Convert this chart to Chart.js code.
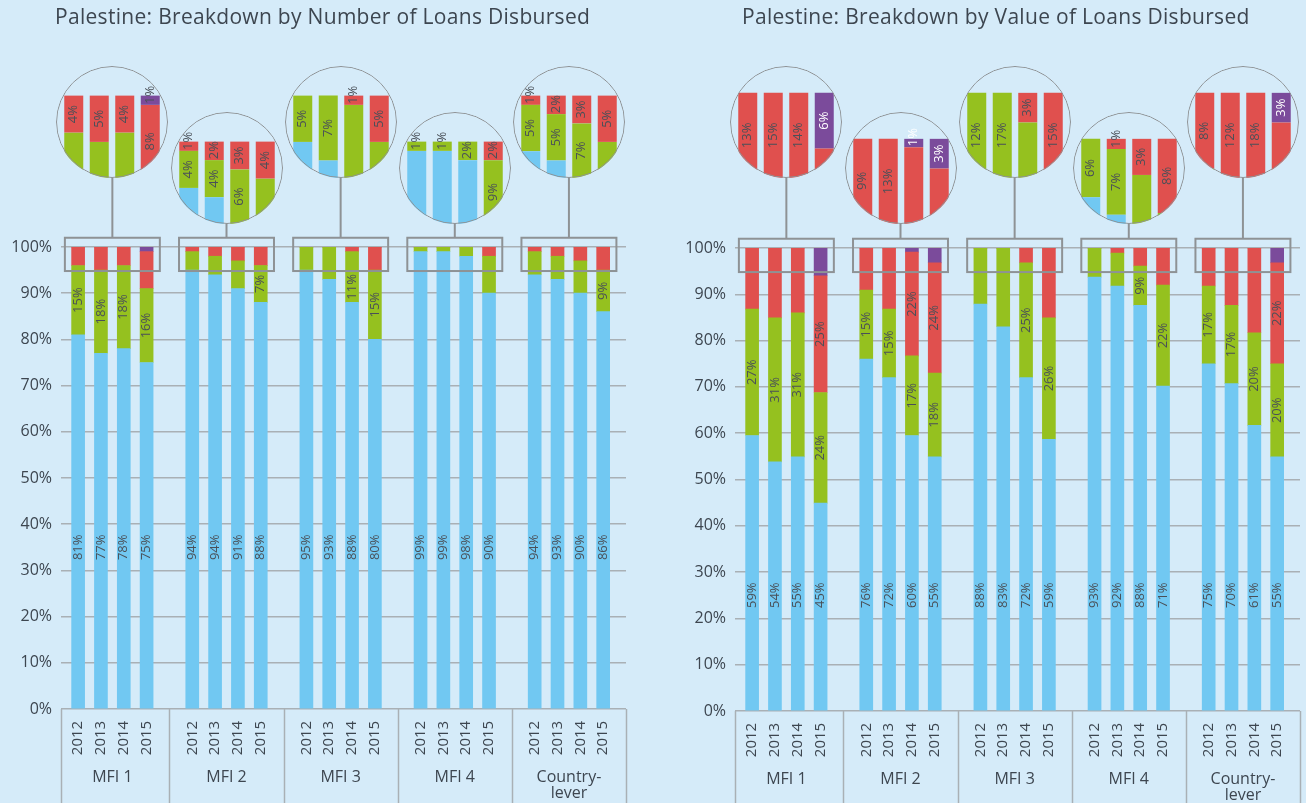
<!DOCTYPE html>
<html>
  <head>
    <title>Palestine: Breakdown of Loans Disbursed</title>
    <meta charset="UTF-8" />
    <script src="https://cdn.jsdelivr.net/npm/chart.js@4"></script>
    <style>
      body { margin: 0; background: #d5ebf9; font-family: "Open Sans", sans-serif; }
      .half { position: absolute; top: 0; width: 653px; height: 803px; }
      .half canvas.main { position: absolute; left: 0; top: 0; }
      .title { position: absolute; top: 3px; font-size: 21px; letter-spacing: 0.3px; line-height: 26px; color: #3d4650; white-space: nowrap; }
      .lens { position: absolute; width: 112px; height: 112px; border-radius: 50%; overflow: hidden; }
      .lens canvas { position: absolute; left: 0; top: 0; }
      .lens::after { content: ""; position: absolute; left: 0; top: 0; right: 0; bottom: 0; border-radius: 50%; border: 1.5px solid #8e9295; }
    </style>
  </head>
  <body>
    <div class="half" id="left" style="left:0">
      <canvas class="main" width="653" height="803"></canvas>
      <div class="title" style="left:55px">Palestine: Breakdown by Number of Loans Disbursed</div>
    </div>
    <div class="half" id="right" style="left:653px">
      <canvas class="main" width="653" height="803"></canvas>
      <div class="title" style="left:89px">Palestine: Breakdown by Value of Loans Disbursed</div>
    </div>
    <script>
      var years = ["2012", "2013", "2014", "2015"];
      var groups = [["MFI 1"], ["MFI 2"], ["MFI 3"], ["MFI 4"], ["Country-", "lever"]];
      var seriesColors = ["#71c8f2", "#95c11f", "#e0504e", "#7b4b9b"];

      // number of loans, % (MFI 1..4, country; 2012-2015 each)
      var numBlue = [81, 77, 78, 75, 95, 94, 91, 88, 95, 93, 88, 80, 99, 99, 98, 90, 94, 93, 90, 86];
      var numGreen = [15, 18, 18, 16, 4, 4, 6, 8, 5, 7, 11, 15, 1, 1, 2, 8, 5, 5, 7, 9];
      var numRed = [4, 5, 4, 8, 1, 2, 3, 4, 0, 0, 1, 5, 0, 0, 0, 2, 1, 2, 3, 5];
      var numPurple = [0, 0, 0, 1, 0, 0, 0, 0, 0, 0, 0, 0, 0, 0, 0, 0, 0, 0, 0, 0];

      // printed labels (main chart / magnifier)
      var numBlueLbl = [81, 77, 78, 75, 94, 94, 91, 88, 95, 93, 88, 80, 99, 99, 98, 90, 94, 93, 90, 86];
      var numGreenLbl = [15, 18, 18, 16, null, null, null, 7, null, null, 11, 15, null, null, null, null, null, null, null, 9];
      var numGreenZoom = [null, null, null, null, 4, 4, 6, null, 5, 7, null, null, 1, 1, 2, 9, 5, 5, 7, null];
      var numRedZoom = [4, 5, 4, 8, 1, 2, 3, 4, null, null, 1, 5, null, null, null, 2, 1, 2, 3, 5];
      var numPurpleZoom = [null, null, null, 1, null, null, null, null, null, null, null, null, null, null, null, null, null, null, null, null];

      // value of loans, %
      var valBlue = [59.5, 53.8, 54.9, 44.9, 76, 72, 59.5, 54.9, 87.9, 83, 72, 58.7, 93.7, 91.8, 87.6, 70.2, 75, 70.7, 61.7, 54.9];
      var valGreen = [27.3, 31.1, 31.1, 23.9, 14.9, 14.8, 17.2, 18.1, 12.1, 17, 24.8, 26.2, 6.3, 7.1, 8.5, 21.8, 16.8, 16.9, 20, 20.1];
      var valRed = [13.2, 15.1, 14, 25.2, 9.1, 13.2, 22.4, 23.8, 0, 0, 3.2, 15.1, 0, 1.1, 3.9, 8, 8.2, 12.4, 18.3, 21.8];
      var valPurple = [0, 0, 0, 6, 0, 0, 0.9, 3.2, 0, 0, 0, 0, 0, 0, 0, 0, 0, 0, 0, 3.2];

      var valBlueLbl = [59, 54, 55, 45, 76, 72, 60, 55, 88, 83, 72, 59, 93, 92, 88, 71, 75, 70, 61, 55];
      var valGreenLbl = [27, 31, 31, 24, 15, 15, 17, 18, null, null, 25, 26, null, null, 9, 22, 17, 17, 20, 20];
      var valRedLbl = [null, null, null, 25, null, null, 22, 24, null, null, null, null, null, null, null, null, null, null, null, 22];
      var valGreenZoom = [null, null, null, null, null, null, null, null, 12, 17, null, null, 6, 7, null, null, null, null, null, null];
      var valRedZoom = [13, 15, 14, null, 9, 13, null, null, null, null, 3, 15, null, 1, 3, 8, 8, 12, 18, null];
      var valPurpleZoom = [null, null, null, 6, null, null, 1, 3, null, null, null, null, null, null, null, null, null, null, null, 3];

      var textColor = "#3d4650";
      var lblColor = "#4a5058";
      var lineColor = "#8e9295";
      var gridColor = "#a9b0b5";

      function drawUp(ctx, text, x, y, color) {
        ctx.save();
        ctx.translate(x, y);
        ctx.rotate(-Math.PI / 2);
        ctx.textAlign = "center";
        ctx.textBaseline = "middle";
        ctx.fillStyle = color;
        ctx.fillText(text, 0, 0);
        ctx.restore();
      }

      var decor = {
        id: "decor",
        afterDatasetsDraw: function (chart, args, o) {
          var ctx = chart.ctx, xs = chart.scales.x, ys = chart.scales.y;
          var boxTop = ys.getPixelForValue(102), boxBottom = ys.getPixelForValue(94.8);

          // value labels
          ctx.font = '13px "Open Sans"';
          chart.data.datasets.forEach(function (ds, k) {
            if (!ds.mainLabels) return;
            chart.getDatasetMeta(k).data.forEach(function (bar, i) {
              var v = ds.mainLabels[i];
              if (v == null) return;
              var t = v + "%";
              var half = ctx.measureText(t).width / 2;
              var cy = k === 0 ? ys.getPixelForValue(o.blueAt) : (bar.y + bar.base) / 2;
              cy = Math.max(cy, boxBottom + half + 3);
              drawUp(ctx, t, bar.x, cy, lblColor);
            });
          });

          // zoom boxes + connectors
          ctx.save();
          ctx.strokeStyle = lineColor;
          ctx.lineWidth = 2;
          groups.forEach(function (g, gi) {
            var c = gi * 5 + 1.5;
            var x1 = xs.getPixelForValue(c - 2.08), x2 = xs.getPixelForValue(c + 2.08);
            ctx.strokeRect(x1, boxTop, x2 - x1, boxBottom - boxTop);
            var cx = xs.getPixelForValue(c);
            ctx.beginPath();
            ctx.moveTo(cx, o.lensY[gi] + 56);
            ctx.lineTo(cx, boxTop);
            ctx.stroke();
          });
          ctx.restore();

          // category axis
          var y0 = ys.getPixelForValue(0);
          ctx.save();
          ctx.strokeStyle = gridColor;
          ctx.lineWidth = 1.5;
          [-0.75, 4, 9, 14, 19, 24].forEach(function (v) {
            var x = Math.round(xs.getPixelForValue(v)) + 0.5;
            ctx.beginPath();
            ctx.moveTo(x, y0);
            ctx.lineTo(x, chart.height);
            ctx.stroke();
          });
          ctx.font = '15px "Open Sans"';
          groups.forEach(function (g, gi) {
            years.forEach(function (yr, yi) {
              drawUp(ctx, yr, xs.getPixelForValue(gi * 5 + yi), y0 + 29, textColor);
            });
          });
          ctx.font = '16px "Open Sans"';
          ctx.textAlign = "center";
          ctx.textBaseline = "middle";
          ctx.fillStyle = textColor;
          groups.forEach(function (g, gi) {
            g.forEach(function (line, li) {
              ctx.fillText(line, xs.getPixelForValue(gi * 5 + 1.5), y0 + 68 + li * 16);
            });
          });
          ctx.restore();
        }
      };

      var lensLabels = {
        id: "lensLabels",
        afterDatasetsDraw: function (chart, args, o) {
          var ctx = chart.ctx, area = chart.chartArea;
          ctx.font = '13px "Open Sans"';
          chart.data.datasets.forEach(function (ds, k) {
            if (!ds.zoomLabels) return;
            chart.getDatasetMeta(k).data.forEach(function (bar, i) {
              var v = ds.zoomLabels[i];
              if (v == null) return;
              var t = v + "%";
              var half = ctx.measureText(t).width / 2;
              var top = Math.max(bar.y, area.top), bot = Math.min(bar.base, area.bottom);
              var cy = Math.min((top + bot) / 2, bar.base - half - 1);
              drawUp(ctx, t, bar.x, cy, k === 3 ? o.purpleColor : lblColor);
            });
          });
        }
      };

      function buildPanel(id, opt) {
        var wrap = document.getElementById(id);
        var datasets = opt.values.map(function (vals, k) {
          return {
            data: vals.map(function (v, i) {
              return { x: Math.floor(i / 4) * 5 + (i % 4), y: v };
            }),
            backgroundColor: seriesColors[k],
            barThickness: 13,
            mainLabels: opt.mainLabels[k]
          };
        });
        var chart = new Chart(wrap.querySelector("canvas.main"), {
          type: "bar",
          data: { datasets: datasets },
          options: {
            responsive: false,
            animation: false,
            layout: { padding: opt.padding },
            plugins: {
              legend: { display: false },
              tooltip: { enabled: false },
              decor: { blueAt: opt.blueAt, lensY: opt.lensY }
            },
            scales: {
              x: { type: "linear", min: -0.75, max: 24, offset: false, stacked: true, display: false },
              y: {
                stacked: true,
                min: 0,
                max: 100,
                ticks: {
                  stepSize: 10,
                  padding: 9,
                  color: textColor,
                  font: { family: "Open Sans", size: 16 },
                  callback: function (v) { return v + "%"; }
                },
                grid: { color: gridColor, lineWidth: 1.5, drawTicks: false },
                border: { display: false },
                afterFit: function (s) { s.width = opt.axisWidth; }
              }
            }
          },
          plugins: [decor]
        });

        groups.forEach(function (g, gi) {
          var cx = chart.scales.x.getPixelForValue(gi * 5 + 1.5);
          var lens = document.createElement("div");
          lens.className = "lens";
          lens.style.left = (cx - 56) + "px";
          lens.style.top = (opt.lensY[gi] - 56) + "px";
          var c = document.createElement("canvas");
          c.width = 112;
          c.height = 112;
          lens.appendChild(c);
          wrap.appendChild(lens);
          new Chart(c, {
            type: "bar",
            data: {
              labels: years,
              datasets: opt.values.map(function (vals, k) {
                return {
                  data: vals.slice(gi * 4, gi * 4 + 4),
                  backgroundColor: seriesColors[k],
                  barPercentage: 0.745,
                  categoryPercentage: 1,
                  zoomLabels: opt.zoomLabels[k] ? opt.zoomLabels[k].slice(gi * 4, gi * 4 + 4) : null
                };
              })
            },
            options: {
              responsive: false,
              animation: false,
              layout: { padding: { left: 5, right: 5, top: 0, bottom: 0 } },
              plugins: {
                legend: { display: false },
                tooltip: { enabled: false },
                lensLabels: { purpleColor: opt.purpleColor }
              },
              scales: {
                x: { stacked: true, display: false },
                y: { stacked: true, display: false, min: opt.zoomMin, max: opt.zoomMax }
              }
            },
            plugins: [lensLabels]
          });
        });
      }

      buildPanel("left", {
        values: [numBlue, numGreen, numRed, numPurple],
        mainLabels: [numBlueLbl, numGreenLbl, null, null],
        zoomLabels: [null, numGreenZoom, numRedZoom, numPurpleZoom],
        padding: { top: 247, bottom: 94, left: 0, right: 27 },
        axisWidth: 61,
        blueAt: 35,
        lensY: [122, 168, 122, 168, 122],
        zoomMin: 91.1,
        zoomMax: 103.2,
        purpleColor: lblColor
      });

      buildPanel("right", {
        values: [valBlue, valGreen, valRed, valPurple],
        mainLabels: [valBlueLbl, valGreenLbl, valRedLbl, null],
        zoomLabels: [null, valGreenZoom, valRedZoom, valPurpleZoom],
        padding: { top: 248, bottom: 92, left: 0, right: 6 },
        axisWidth: 82,
        blueAt: 25,
        lensY: [122, 168, 122, 168, 122],
        zoomMin: 90.8,
        zoomMax: 102.9,
        purpleColor: "#ffffff"
      });
    </script>
  </body>
</html>
